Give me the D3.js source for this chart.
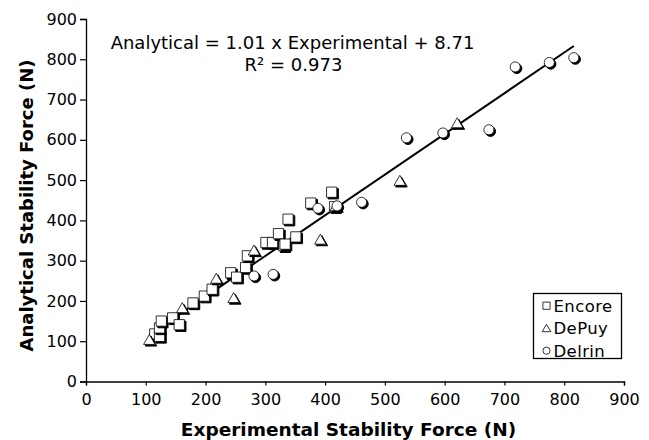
<!DOCTYPE html>
<html>
<head>
<meta charset="utf-8">
<script src="https://cdn.jsdelivr.net/npm/d3@7"></script>
<style>
  body { margin: 0; background: #fff; }
  svg { font-family: Verdana, "DejaVu Sans", sans-serif; }
</style>
</head>
<body>
<div id="chart"></div>
<script>
// Experimental (x) vs analytical (y) stability force, N.
const encoreX = [115, 123, 123, 126, 145, 156, 179, 198, 211, 242, 252, 267, 270, 301, 312, 322, 331, 333, 338, 351, 376, 411, 416];
const encoreY = [118, 112, 133, 150, 158, 141, 195, 212, 229, 270, 259, 283, 312, 345, 345, 367, 337, 341, 403, 359, 443, 470, 434];
const depuyX = [106, 161, 218, 247, 281, 392, 418, 525, 621];
const depuyY = [104, 183, 256, 208, 326, 353, 436, 499, 642];
const delrinX = [281, 313, 388, 420, 461, 536, 597, 674, 718, 775, 816];
const delrinY = [262, 266, 430, 436, 445, 605, 617, 625, 781, 792, 804];
const seriesNames = ['Encore', 'DePuy', 'Delrin'];
const xTicks = [0, 100, 200, 300, 400, 500, 600, 700, 800, 900];
const yTicks = [0, 100, 200, 300, 400, 500, 600, 700, 800, 900];
const slope = 1.01, intercept = 8.71, r2 = 0.973;

const width = 649, height = 440;
const margin = {top: 19, right: 25, bottom: 58.5, left: 86};

const svg = d3.select('#chart')
  .append('svg')
    .attr('width', width)
    .attr('height', height);

const x = d3.scaleLinear().domain([0, 900]).range([margin.left, width - margin.right]);
const y = d3.scaleLinear().domain([0, 900]).range([height - margin.bottom, margin.top]);

// Axes.
const xAxis = svg.append('g')
  .attr('transform', `translate(0,${y(0)})`)
  .call(d3.axisBottom(x).tickValues(xTicks).tickSize(4).tickPadding(8));
const yAxis = svg.append('g')
  .attr('transform', `translate(${x(0)},0)`)
  .call(d3.axisLeft(y).tickValues(yTicks).tickSize(6).tickPadding(3));
[xAxis, yAxis].forEach(g => {
  g.selectAll('text').style('font-size', '16px').style('font-family', 'Verdana, "DejaVu Sans", sans-serif').attr('fill', '#000');
  g.selectAll('line').attr('stroke', '#000').attr('stroke-width', 1.2);
  g.select('.domain').attr('stroke', '#000').attr('stroke-width', 1.3);
});

// Axis titles.
svg.append('text')
  .attr('x', 348.5)
  .attr('y', 436)
  .attr('text-anchor', 'middle')
  .style('font-size', '18.5px')
  .style('font-weight', 'bold')
  .text('Experimental Stability Force (N)');
svg.append('text')
  .attr('transform', `translate(33,205.5) rotate(-90)`)
  .attr('text-anchor', 'middle')
  .style('font-size', '18px')
  .style('font-weight', 'bold')
  .text('Analytical Stability Force (N)');

// Regression line.
const allX = encoreX.concat(depuyX, delrinX);
const x0 = d3.min(allX), x1 = d3.max(allX);
svg.append('line')
  .attr('x1', x(x0)).attr('y1', y(slope * x0 + intercept))
  .attr('x2', x(x1)).attr('y2', y(slope * x1 + intercept))
  .attr('stroke', '#000')
  .attr('stroke-width', 2);

// Markers with a small black drop shadow.
const symType = {Encore: d3.symbolSquare, DePuy: d3.symbolTriangle, Delrin: d3.symbolCircle};
const symSize = {Encore: 105, DePuy: 58, Delrin: 80};
const series = [
  {name: 'Encore', xs: encoreX, ys: encoreY},
  {name: 'DePuy', xs: depuyX, ys: depuyY},
  {name: 'Delrin', xs: delrinX, ys: delrinY}
];
series.forEach(s => {
  const pts = s.xs.map((v, i) => ({x: v, y: s.ys[i]}));
  const path = d3.symbol().type(symType[s.name]).size(symSize[s.name])();
  const g = svg.append('g');
  pts.forEach(p => {
    const cx = x(p.x), cy = y(p.y) + (s.name === 'DePuy' ? 1.5 : 0);
    g.append('path').attr('d', path)
      .attr('transform', `translate(${cx + 1.6},${cy + 1.6})`)
      .attr('fill', '#000').attr('stroke', '#000').attr('stroke-width', 1);
    g.append('path').attr('d', path)
      .attr('transform', `translate(${cx},${cy})`)
      .attr('fill', '#fff').attr('stroke', '#000').attr('stroke-width', 0.8);
  });
});

// Equation.
svg.append('text')
  .attr('x', 292.5).attr('y', 48.5)
  .attr('text-anchor', 'middle')
  .style('font-size', '18px')
  .text(`Analytical = ${slope} x Experimental + ${intercept}`);
svg.append('text')
  .attr('x', 293.5).attr('y', 70.5)
  .attr('text-anchor', 'middle')
  .style('font-size', '18px')
  .text(`R² = ${r2}`);

// Legend.
const legend = svg.append('g');
legend.append('rect')
  .attr('x', 533.5).attr('y', 293.5)
  .attr('width', 88).attr('height', 65)
  .attr('fill', '#fff').attr('stroke', '#000').attr('stroke-width', 1.3);
seriesNames.forEach((name, i) => {
  const cy = 305.7 + i * 22.5;
  legend.append('path')
    .attr('d', d3.symbol().type(symType[name]).size(name === 'DePuy' ? 32 : (name === 'Delrin' ? 40 : 52))())
    .attr('transform', `translate(546.5,${cy + (name === 'DePuy' ? 1 : 0)})`)
    .attr('fill', '#fff').attr('stroke', '#000').attr('stroke-width', 0.8);
  legend.append('text')
    .attr('x', 553.5).attr('y', cy)
    .attr('dy', '0.36em')
    .style('font-size', '16.5px')
    .style('letter-spacing', '0.4px')
    .text(name);
});
</script>
</body>
</html>
